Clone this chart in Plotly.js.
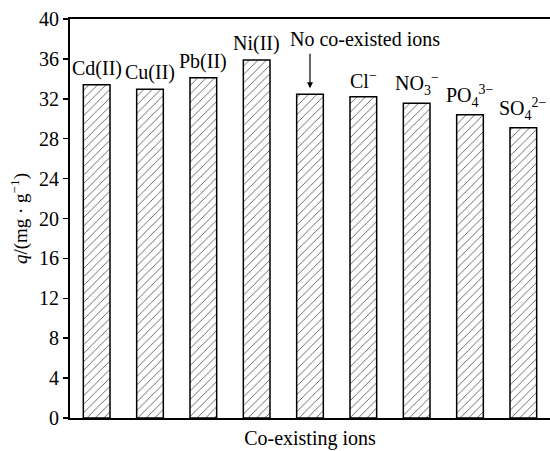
<!DOCTYPE html>
<html>
<head>
<meta charset="utf-8">
<script src="https://cdn.plot.ly/plotly-3.0.1.min.js"></script>
<style>html,body{margin:0;padding:0;background:#fff;}#chart{width:550px;height:451px;}</style>
</head>
<body>
<div id="chart"></div>
<script>
const categories = ["Cd(II)", "Cu(II)", "Pb(II)", "Ni(II)", "None", "Cl-", "NO3-", "PO4 3-", "SO4 2-"];
const labels = ["Cd(II)", "Cu(II)", "Pb(II)", "Ni(II)", "", "Cl<sup>−</sup>", "NO<sub>3</sub><sup>−</sup>", "PO<sub>4</sub><sup>3−</sup>", "SO<sub>4</sub><sup>2−</sup>"];
const qValues = [33.4, 32.95, 34.1, 35.9, 32.45, 32.2, 31.55, 30.4, 29.1];
const yTicks = [0, 4, 8, 12, 16, 20, 24, 28, 32, 36, 40];

const font = {family: "'Liberation Serif', 'Times New Roman', Times, serif", color: "#000"};
const f = (s) => Object.assign({size: s}, font);

const trace = {
  type: "bar",
  x: categories,
  y: qValues,
  width: 0.5,
  marker: {
    color: "#fff",
    line: {color: "#000", width: 1.5},
    pattern: {shape: "/", size: 6, solidity: 0.12, fgcolor: "#333", bgcolor: "#fff"}
  },
  hoverinfo: "skip"
};

const annotations = labels.map((t, i) => ({
  x: categories[i], y: qValues[i], xref: "x", yref: "y",
  text: t, showarrow: false, yanchor: "bottom", yshift: 3,
  font: f(20)
})).filter(a => a.text !== "");

annotations.push({
  x: categories[4], y: qValues[4], xref: "x", yref: "y",
  text: "", showarrow: true, arrowhead: 2, arrowsize: 1, arrowwidth: 1.2, arrowcolor: "#000",
  ax: 0, ay: -42, standoff: 6
});
annotations.push({
  x: 5.04, y: 38.0, xref: "x", yref: "y", text: "No co-existed ions", showarrow: false,
  font: f(20)
});

const layout = {
  width: 550, height: 451,
  margin: {l: 70, r: 0, t: 19, b: 33},
  paper_bgcolor: "#fff", plot_bgcolor: "#fff",
  font: f(20),
  showlegend: false,
  bargap: 0.5,
  xaxis: {
    type: "category", range: [-0.5, 8.5], showticklabels: false, ticks: "",
    showline: true, linecolor: "#000", linewidth: 2, mirror: true, showgrid: false, zeroline: false,
    title: {text: "Co-existing ions", font: f(20), standoff: 12}
  },
  yaxis: {
    range: [0, 40], tickvals: yTicks, ticktext: yTicks.map(String),
    ticks: "outside", ticklen: 5, tickwidth: 1.5, tickcolor: "#000",
    showline: true, linecolor: "#000", linewidth: 2, showgrid: false, zeroline: false,
    tickfont: f(20),
    title: {text: "<i>q</i>/(mg · g<sup>−1</sup>)", font: f(19), standoff: 6}
  },
  annotations: annotations
};

Plotly.newPlot("chart", [trace], layout, {displayModeBar: false, staticPlot: true});
</script>
</body>
</html>
